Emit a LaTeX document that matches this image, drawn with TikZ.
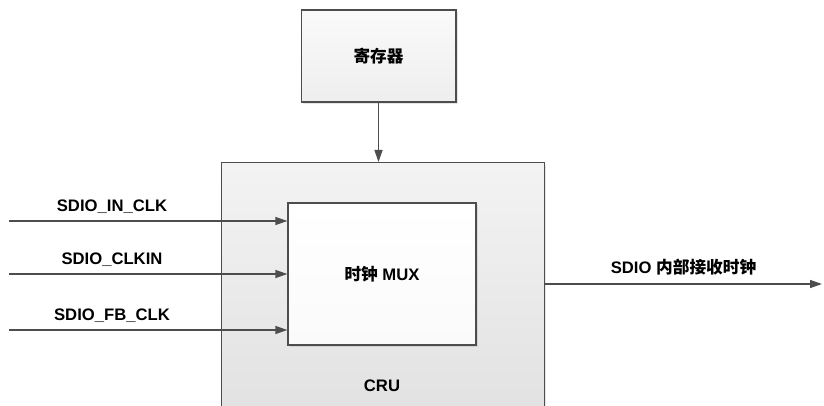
\documentclass[tikz,border=0pt]{standalone}
\usepackage{fontspec}
\setmainfont{Liberation Sans}
\newfontfamily\cjk{Noto Sans CJK SC}
\usetikzlibrary{arrows.meta,positioning,shadows}
\definecolor{edge}{HTML}{4D4D4D}
\definecolor{crutop}{HTML}{F3F3F3}
\definecolor{crubot}{HTML}{E1E1E1}
\definecolor{boxtop}{HTML}{FAFAFA}
\definecolor{boxbot}{HTML}{EEEEEE}

\begin{document}
\begin{tikzpicture}[x=0.75pt,y=-0.75pt,font=\fontsize{12.5}{15}\bfseries\selectfont,
   blk/.style={draw=edge,line width=1pt,top color=boxtop,bottom color=boxbot,
     drop shadow={shadow xshift=1.5pt,shadow yshift=-1.5pt,opacity=0.2}},
   sig/.style={draw=edge,line width=1pt,-{Triangle[length=9pt,width=6pt]}}]
  \useasboundingbox (0,0) rectangle (824,406);
  \clip (0,0) rectangle (824,406);
  \node[blk,top color=crutop,bottom color=crubot,anchor=north west,
        minimum width=242pt,minimum height=195pt] (cru) at (221,162) {};
  \node (crulbl) at (382,386) {CRU};
  \node[blk,top color=white,bottom color=boxtop,minimum width=141pt,minimum height=106.5pt] (mux) at (382,274) {{\cjk 时钟} MUX};
  \node[blk,minimum width=116pt,minimum height=69pt] (reg) at (378.5,56) {\cjk 寄存器};
  \draw[sig] (reg) -- (reg |- cru.north);
  \foreach \y/\name/\txt in {221/inclk/SDIO\_IN\_CLK,274/clkin/SDIO\_CLKIN,330/fbclk/SDIO\_FB\_CLK}{
    \coordinate (\name) at (9,\y);
    \draw[sig] (\name) -- (\name -| mux.west) node[pos=0.37,above=2pt] {\txt};
  }
  \coordinate (rxclk) at (822,284);
  \draw[sig] (rxclk -| cru.east) -- (rxclk) node[midway,above=3pt] {SDIO {\cjk 内部接收时钟}};
\end{tikzpicture}
\end{document}
